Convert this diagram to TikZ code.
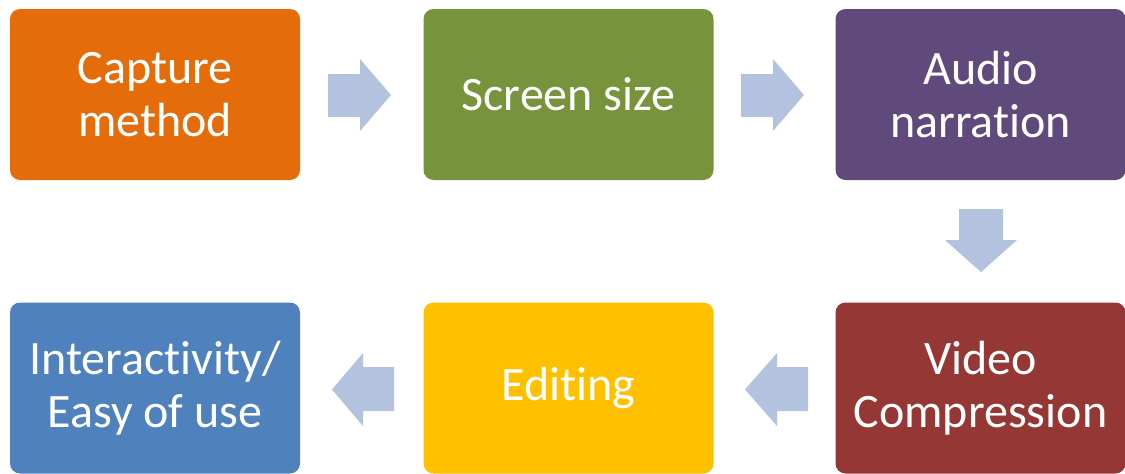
\documentclass[tikz,border=0pt]{standalone}
\usepackage{fontspec}
\setmainfont{Carlito}[Ligatures=CommonOff]
\definecolor{cOrange}{HTML}{E46C0A}
\definecolor{cGreen}{HTML}{77933C}
\definecolor{cPurple}{HTML}{604A7B}
\definecolor{cRed}{HTML}{953735}
\definecolor{cYellow}{HTML}{FFC000}
\definecolor{cBlue}{HTML}{4F81BD}
\definecolor{cArrow}{HTML}{B3C2DE}
\begin{document}
\begin{tikzpicture}[x=1pt,y=-1pt,
  stepbox/.style={rounded corners=10pt, minimum width=290pt, minimum height=171pt,
    inner sep=0pt, text=white, align=center, font=\fontsize{48}{53}\selectfont},
  blockarrow/.style={fill=cArrow, draw=none}]
\useasboundingbox (0,0) rectangle (1125,474);
\node[stepbox, fill=cOrange] (capture) at (155,94.5) {Capture\\method};
\node[stepbox, fill=cGreen] (screen) at (568.5,94.5) {Screen size};
\node[stepbox, fill=cPurple] (audio) at (980.5,94.5) {Audio\\narration};
\node[stepbox, fill=cRed] (video) at (980.5,388) {Video\\Compression};
\node[stepbox, fill=cYellow] (editing) at (568.5,388) {Editing};
\node[stepbox, fill=cBlue] (inter) at (155,388) {Interactivity/\\Easy of use};
% right arrows
\fill[blockarrow] (328,74) -- (360,74) -- (360,59) -- (391,95) -- (360,131) -- (360,117) -- (328,117) -- cycle;
\fill[blockarrow] (741,74) -- (773,74) -- (773,59) -- (804,95) -- (773,131) -- (773,117) -- (741,117) -- cycle;
% down arrow
\fill[blockarrow] (959,209) -- (1003,209) -- (1003,240) -- (1017,240) -- (981,272) -- (945,240) -- (959,240) -- cycle;
% left arrows
\fill[blockarrow] (808,367) -- (777,367) -- (777,353) -- (745,389.5) -- (777,426) -- (777,411) -- (808,411) -- cycle;
\fill[blockarrow] (394,367) -- (363,367) -- (363,353) -- (332,389.5) -- (363,426) -- (363,411) -- (394,411) -- cycle;
\end{tikzpicture}
\end{document}
